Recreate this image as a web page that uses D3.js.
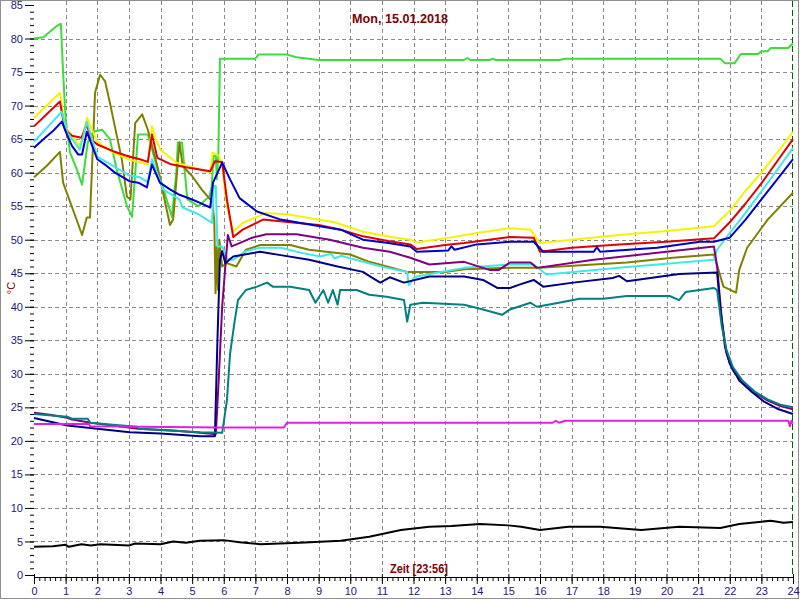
<!DOCTYPE html>
<html>
<head>
<meta charset="utf-8">
<script src="https://cdn.jsdelivr.net/npm/d3@7"></script>
<style>
html,body{margin:0;padding:0;background:#fff;}
svg{display:block;}
</style>
</head>
<body>
<svg id="chart" width="800" height="600"></svg>
<script>
// ---- data (hour, °C) ----
const title = "Mon, 15.01.2018";
const xTitle = "Zeit [23:56]";
const yTitle = "°C";
const xTickLabels = d3.range(0, 25);
const yTickLabels = d3.range(0, 90, 5);

const green = [[0,80],[0.3,80.2],[0.5,81],[0.7,81.8],[0.85,82.2],[0.92,75],[1.0,68],[1.14,63],[1.36,60.4],[1.52,58.2],[1.7,64.5],[1.87,66.1],[2.15,66.4],[2.4,65],[2.62,60.4],[2.94,55],[3.1,53.4],[3.29,65.7],[3.6,65.7],[3.67,64.5],[4.0,59],[4.36,53.4],[4.5,60],[4.55,64.5],[4.68,64.5],[4.75,61],[4.85,56],[5.2,55],[5.55,56.5],[5.62,58],[5.68,62.5],[5.75,62.5],[5.78,59],[5.83,63],[5.88,77],[7.0,77],[7.1,77.6],[8.0,77.6],[8.3,77.2],[9.0,76.8],[13.6,76.8],[13.7,77.1],[13.8,76.8],[14.4,76.8],[14.5,77.0],[14.6,76.8],[16.6,76.8],[16.8,77.0],[21.7,77.0],[21.85,76.3],[22.15,76.3],[22.35,77.7],[22.9,77.7],[23.0,78.1],[23.2,78.1],[23.3,78.6],[23.85,78.6],[24,79.3]];
const olive = [[0,59.3],[0.4,61],[0.82,63.1],[0.92,58.5],[1.23,54.5],[1.52,50.7],[1.67,53.3],[1.77,53.3],[1.93,71.9],[2.09,74.6],[2.25,73.6],[2.4,70.4],[2.78,61.9],[2.94,56.4],[3.05,56],[3.2,67.4],[3.42,68.7],[3.6,66.4],[3.9,61],[4.3,52.2],[4.4,53],[4.6,64.5],[4.7,61],[5.0,59.5],[5.3,57.5],[5.63,55.7],[5.7,53],[5.74,42],[5.78,49],[5.82,42.5],[5.86,50],[5.95,46],[6.1,46.5],[6.4,46],[6.7,48.5],[7.15,49.2],[8.1,49.2],[8.7,48.5],[10.0,47.8],[10.6,46.7],[11.8,45.2],[13.0,45.2],[13.6,45.6],[15.05,45.8],[16.0,45.8],[17.7,46.3],[18.75,46.6],[20.2,47.3],[21.5,47.8],[21.8,43],[22.2,42.1],[22.3,45.5],[22.55,48.8],[23.2,53],[24,57]];
const yellow = [[0,68.2],[0.82,71.9],[0.98,66.9],[1.2,65.5],[1.45,64],[1.68,68.2],[2.0,64.6],[2.5,63],[3.0,62],[3.35,61.5],[3.6,61.2],[3.73,66.9],[3.85,65],[4.0,63.4],[4.5,61.5],[5.0,60.8],[5.57,60],[5.65,63],[5.85,62.5],[5.95,61],[6.1,55],[6.3,51.2],[6.6,52.5],[7.15,53.6],[7.3,54],[8.0,53.8],[8.6,53.3],[9.5,52.6],[10.4,51.2],[11.3,50.4],[11.9,50],[12.1,49.6],[13.0,50.2],[14.0,51],[15.05,51.7],[15.7,51.5],[16.0,49.5],[17.0,50],[18.5,50.7],[20,51.3],[21.5,52],[22.0,54.3],[22.5,57.3],[23,60],[23.5,63],[24,66.1]];
const red = [[0,66.9],[0.82,70.6],[0.98,66.4],[1.2,65.5],[1.5,65.2],[1.67,67.2],[1.8,65],[2.0,64.2],[2.5,63.2],[3.0,62.4],[3.35,62],[3.6,61.6],[3.73,65.7],[3.9,62.2],[4.3,61.3],[4.8,60.8],[5.2,60.5],[5.57,60.2],[5.72,61.7],[5.95,61.6],[6.1,56],[6.3,50.4],[6.6,51.5],[7.24,53],[8.1,52.6],[9.0,52.2],[9.7,51.5],[10.4,50.5],[11.2,49.8],[11.9,49.3],[12.1,48.6],[13.0,49.2],[13.6,49.5],[15.05,50.4],[15.8,50.3],[16.0,48.2],[17.0,48.8],[18.5,49.3],[20,49.7],[21.5,50.2],[22.0,52.6],[22.5,55.4],[23,58.4],[23.5,61.7],[24,65]];
const cyan = [[0,64.6],[0.88,69.1],[1.04,66.1],[1.45,63.4],[1.67,67.6],[2.0,62.4],[2.5,61],[3.0,59.6],[3.35,59.3],[3.6,58.6],[3.73,62],[4.08,57.5],[4.6,56],[4.7,54.8],[5.2,53.8],[5.63,52.5],[5.68,58],[5.75,58],[5.8,49],[5.95,49],[6.1,47.2],[6.3,47],[6.7,48.3],[7.15,48.8],[7.8,48.8],[8.5,48],[9.05,47.5],[9.4,47.9],[9.5,47.2],[9.7,47.6],[10.4,46.7],[11.15,45.8],[11.8,45.2],[11.85,43.2],[12.0,44.2],[12.1,44.5],[13.0,45.3],[13.6,45.8],[15.05,46.3],[15.8,46.3],[16.2,44.8],[17.05,45.2],[18.5,45.8],[20,46.4],[21.5,47],[21.6,48.5],[22.0,51],[22.5,54],[23.0,57.2],[23.5,60.4],[24,63.7]];
const blue = [[0,63.7],[0.35,65.2],[0.6,66.2],[0.88,67.6],[1.04,65.7],[1.2,64],[1.4,62.7],[1.52,62.7],[1.67,66.1],[2.0,62],[2.3,61],[2.56,60],[3.03,58.7],[3.3,58.5],[3.57,57.8],[3.73,61.2],[3.98,58.5],[4.3,57.5],[4.6,56.7],[5.0,56],[5.25,55.5],[5.57,54.8],[5.66,58.5],[5.95,61.5],[6.2,59],[6.5,56.2],[7.05,54.2],[7.8,53],[8.8,52.2],[9.7,51.5],[10.4,50],[11.2,49.5],[11.9,49],[12.1,48.2],[13.1,48.4],[13.2,49],[13.3,48.5],[14.0,49.3],[15.05,49.7],[15.8,49.7],[16.1,48.2],[17.7,48.2],[17.8,48.9],[17.9,48.2],[19.7,48.8],[21.06,49.7],[21.5,49.7],[22.0,50.3],[22.5,53],[23.0,56],[23.5,59],[24,62]];
const purple = [[0,24.2],[0.5,23.9],[1.0,23.5],[1.2,23.2],[1.8,22.7],[2.5,22.3],[3.3,21.8],[4.5,21.5],[5.25,21.2],[5.75,21],[5.85,30],[5.95,40],[6.05,46],[6.13,50.7],[6.25,49],[6.5,49.5],[6.9,50.3],[7.35,50.8],[8.3,50.8],[9.35,50],[10.4,48.8],[11.25,48.2],[11.9,47.3],[12.5,46.3],[13.6,46.7],[14.4,45.5],[14.7,45.5],[15.05,46.6],[15.7,46.6],[15.9,45.8],[17.7,47],[21.5,49],[21.6,46],[21.75,38],[21.9,33],[22.1,30.5],[22.4,28.8],[22.8,27.2],[23.2,26],[23.6,25.2],[24,24.7]];
const navy = [[0,23.4],[1.05,22.3],[2.0,21.8],[3.03,21.3],[4,21.1],[5.25,20.7],[5.72,20.7],[5.8,35],[5.88,47],[5.95,48.3],[6.05,46.5],[6.3,47.5],[7.15,48.2],[7.8,47.7],[8.7,47],[9.6,46],[10.4,45.2],[10.7,44.3],[10.95,43.6],[11.25,44.4],[11.7,43.6],[12.5,44.5],[13.6,44.5],[14.2,44],[14.65,42.8],[15.05,42.8],[15.35,43.3],[15.8,44],[16.1,43],[17.05,43.6],[18.3,44.3],[18.5,44.6],[18.75,43.8],[20.4,44.9],[21.6,45.1],[21.7,40],[21.85,34],[22.0,31.5],[22.3,29],[22.7,27.3],[23.1,25.8],[23.5,24.8],[24,24]];
const teal = [[0,24],[1.05,23.6],[1.2,23.3],[1.7,23.3],[1.77,22.7],[2.5,22.4],[3.25,22.1],[3.3,21.8],[5.25,21.3],[5.95,21.2],[6.1,26],[6.2,33],[6.35,38],[6.45,41],[6.7,42.5],[7.05,43],[7.37,43.6],[7.55,43],[8.1,43],[8.7,42.5],[8.9,40.6],[9.15,42.5],[9.3,40.6],[9.45,42.5],[9.6,40.3],[9.68,42.5],[10.2,42.5],[10.6,41.8],[11.15,41.5],[11.7,41],[11.8,37.8],[11.9,40.3],[12.3,40.6],[13.6,40.3],[14.2,39.6],[14.8,38.8],[15.05,39.6],[15.7,40.6],[15.9,40],[16.6,40.6],[17.25,41.2],[18.0,41.2],[18.75,41.6],[20.1,41.6],[20.4,41],[20.6,42.2],[21.5,42.8],[21.6,42.5],[21.75,37],[21.9,33.5],[22.1,31],[22.4,29],[22.8,27.3],[23.2,26.2],[23.6,25.4],[24,25]];
const magenta = [[0,22.5],[1.74,22.5],[1.77,22.2],[3.3,22.1],[5.9,22.0],[7.9,22.0],[8.0,22.7],[16.4,22.7],[16.5,23],[16.6,22.7],[16.8,23.0],[23.85,23.0],[23.9,22.2],[23.95,23],[24,22.6]];
const black = [[0,4.2],[0.6,4.3],[1.0,4.5],[1.1,4.2],[1.5,4.6],[1.8,4.4],[2.1,4.6],[3.0,4.4],[3.2,4.7],[4.0,4.6],[4.4,5.0],[4.8,4.8],[5.25,5.1],[6.0,5.2],[6.5,4.9],[7.15,4.6],[8.4,4.8],[9.7,5.1],[10.6,5.7],[11.6,6.7],[12.5,7.2],[13.2,7.3],[14.1,7.6],[15.0,7.4],[15.4,7.2],[16.0,6.7],[16.9,7.2],[17.9,7.2],[19.2,6.7],[20.4,7.2],[21.7,7.0],[22.3,7.6],[23.3,8.1],[23.7,7.8],[24,7.9]];

const series = [
  {name:"green", color:"#3cdc3c", data:green},
  {name:"olive", color:"#808000", data:olive},
  {name:"yellow", color:"#f4f400", data:yellow},
  {name:"red", color:"#e00000", data:red},
  {name:"cyan", color:"#40e8e8", data:cyan},
  {name:"blue", color:"#0000cc", data:blue},
  {name:"purple", color:"#800080", data:purple},
  {name:"navy", color:"#000080", data:navy},
  {name:"teal", color:"#008080", data:teal},
  {name:"magenta", color:"#e020e0", data:magenta},
  {name:"black", color:"#000000", data:black}
];

// ---- layout ----
const svg = d3.select("#chart");
const x = d3.scaleLinear().domain([0, 24]).range([34, 793]);
const y = d3.scaleLinear().domain([0, 85]).range([575, 5]);
const axisColor = "#1a1a78";
const titleColor = "#800000";

// frame
svg.append("rect").attr("x",0.5).attr("y",0.5).attr("width",798).attr("height",598)
  .attr("fill","none").attr("stroke","#909090");

// grid
const grid = svg.append("g").attr("stroke","#8a8a8a").attr("stroke-width",1).attr("stroke-dasharray","4,3");
grid.selectAll("line.h").data(d3.range(5, 85, 5)).join("line")
  .attr("x1", x(0)).attr("x2", x(24))
  .attr("y1", d => Math.round(y(d)) + 0.5).attr("y2", d => Math.round(y(d)) + 0.5);
grid.selectAll("line.v").data(d3.range(1, 24)).join("line")
  .attr("x1", d => Math.round(x(d)) + 0.5).attr("x2", d => Math.round(x(d)) + 0.5)
  .attr("y1", 1).attr("y2", y(0));

// current time marker
svg.append("line").attr("x1", x(24)-0.5).attr("x2", x(24)-0.5).attr("y1", 1).attr("y2", y(0))
  .attr("stroke","#006400").attr("stroke-dasharray","6,3").attr("stroke-width",1);

// y axis
const yMinor = d3.axisLeft(y).tickValues(d3.range(0, 86, 1)).tickSize(4).tickFormat("");
svg.append("g").attr("transform", `translate(${x(0)},0)`).call(yMinor)
  .call(g => g.select(".domain").remove())
  .call(g => g.selectAll("line").attr("stroke","#000"));
const yMajor = d3.axisLeft(y).tickValues(yTickLabels).tickSize(9).tickPadding(2);
svg.append("g").attr("transform", `translate(${x(0)},0)`).call(yMajor)
  .call(g => g.select(".domain").remove())
  .call(g => g.selectAll("line").attr("stroke","#000"))
  .call(g => g.selectAll("text").attr("fill", axisColor).attr("font-family","Liberation Sans, Arial, sans-serif").attr("font-size","11px"));

// x axis
const xBase = 577;
const xMinor = d3.axisBottom(x).tickValues(d3.range(0, 24.01, 1/6)).tickSize(4).tickFormat("");
svg.append("g").attr("transform", `translate(0,${xBase})`).call(xMinor)
  .call(g => g.selectAll("line").attr("stroke","#000"))
  .call(g => g.select(".domain").attr("stroke","#000").attr("d", `M${x(0)},0.5H${x(24)}`));
const xMajor = d3.axisBottom(x).tickValues(xTickLabels).tickSize(7).tickPadding(3);
svg.append("g").attr("transform", `translate(0,${xBase})`).call(xMajor)
  .call(g => g.select(".domain").remove())
  .call(g => g.selectAll("line").attr("stroke","#000").attr("y1",-3))
  .call(g => g.selectAll("text").attr("fill", axisColor).attr("font-family","Liberation Sans, Arial, sans-serif").attr("font-size","11px"));

// lines
const line = d3.line().x(d => x(d[0])).y(d => y(d[1]));
svg.append("g").selectAll("path").data(series).join("path")
  .attr("d", d => line(d.data))
  .attr("fill","none")
  .attr("stroke", d => d.color)
  .attr("stroke-width", 2)
  .attr("stroke-linejoin","round");

// titles
svg.append("text").attr("x", 400).attr("y", 23).attr("text-anchor","middle")
  .attr("fill", titleColor).attr("font-family","Liberation Sans, Arial, sans-serif")
  .attr("font-weight","bold").attr("font-size","13px")
  .attr("textLength", 96).attr("lengthAdjust","spacingAndGlyphs").text(title);
svg.append("text").attr("x", 419).attr("y", 573).attr("text-anchor","middle")
  .attr("fill", titleColor).attr("font-family","Liberation Sans, Arial, sans-serif")
  .attr("font-weight","bold").attr("font-size","12px")
  .attr("textLength", 58).attr("lengthAdjust","spacingAndGlyphs").text(xTitle);
svg.append("text").attr("transform","translate(15,288) rotate(-90)").attr("text-anchor","middle")
  .attr("fill", titleColor).attr("font-family","Liberation Sans, Arial, sans-serif")
  .attr("font-size","11px").text(yTitle);
</script>
</body>
</html>
